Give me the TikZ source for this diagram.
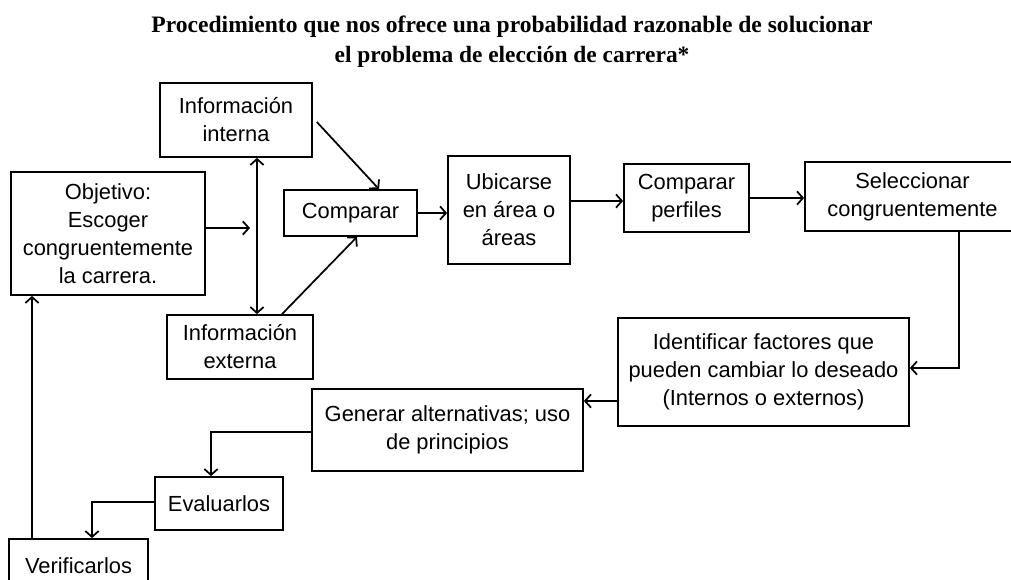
\documentclass[tikz,border=0pt]{standalone}
\usepackage{fontspec}
\setmainfont{Liberation Sans}
\newfontfamily\titlefont{Liberation Serif}
\usetikzlibrary{arrows.meta}
\begin{document}
\begin{tikzpicture}[x=0.75pt,y=-0.75pt,
  box/.style={draw,line width=1.3pt,rectangle,inner sep=0pt,align=center,
    font=\fontsize{16.4}{21}\selectfont},
  conn/.style={line width=1.3pt,-{Straight Barb[length=4.5pt,width=10pt,line width=1.3pt]}},
  conn2/.style={line width=1.3pt,{Straight Barb[length=4.5pt,width=10pt,line width=1.3pt]}-{Straight Barb[length=4.5pt,width=10pt,line width=1.3pt]}}]
\useasboundingbox (0,0) rectangle (1011,579);
% title
\node (t1) at (512,27) {\titlefont\bfseries\resizebox{540.75pt}{!}{Procedimiento que nos ofrece una probabilidad razonable de solucionar}};
\node (t2) at (512,57) {\titlefont\bfseries\resizebox{266pt}{!}{el problema de elección de carrera*}};
% boxes
\node[box,minimum width=152*0.75pt,minimum height=74*0.75pt] (intI) at (236,120) {Información\\interna};
\node[box,minimum width=194*0.75pt,minimum height=123*0.75pt] (obj) at (108,233.5) {Objetivo:\\Escoger\\congruentemente\\la carrera.};
\node[box,minimum width=133*0.75pt,minimum height=46*0.75pt] (comp) at (350.5,213) {Comparar};
\node[box,minimum width=146*0.75pt,minimum height=64*0.75pt] (intE) at (240,347) {Información\\externa};
\node[box,minimum width=122*0.75pt,minimum height=108*0.75pt] (ubi) at (509,210) {Ubicarse\\en área o\\áreas};
\node[box,minimum width=125*0.75pt,minimum height=68*0.75pt] (perf) at (686.5,198) {Comparar\\perfiles};
\node[box,minimum width=215*0.75pt,minimum height=69*0.75pt] (sel) at (912.5,196.5) {Seleccionar\\congruentemente};
\node[box,minimum width=291*0.75pt,minimum height=108*0.75pt] (ident) at (763.5,372) {Identificar factores que\\pueden cambiar lo deseado\\(Internos o externos)};
\node[box,minimum width=271*0.75pt,minimum height=82*0.75pt] (gen) at (447.5,430) {Generar alternativas; uso\\de principios};
\node[box,minimum width=128*0.75pt,minimum height=53*0.75pt] (eval) at (219,503.5) {Evaluarlos};
\node[box,minimum width=139*0.75pt,minimum height=53*0.75pt] (ver) at (78.5,565.5) {Verificarlos};
% helper coordinates
\coordinate (ot) at (250,228);
\coordinate (vx) at (257,0);
\coordinate (sx) at (959,368);
% connectors
\draw[conn] (obj.east |- ot) -- (ot);
\draw[conn2] (intI.south -| vx) -- (intE.north -| vx);
\draw[conn] ([shift={(4,2)}]intI.east) -- ([xshift=28.5*0.75pt]comp.north);
\draw[conn] ([xshift=42*0.75pt]intE.north) -- ([xshift=6.5*0.75pt]comp.south);
\draw[conn] (comp.east) -- (comp.east -| ubi.west);
\draw[conn] ([yshift=9*0.75pt]ubi.east) -- ([yshift=9*0.75pt]ubi.east -| perf.west);
\draw[conn] (perf.east) -- (perf.east -| sel.west);
\draw[conn] (sel.south -| sx) |- ([yshift=4*0.75pt]ident.east);
\draw[conn] ([yshift=-29*0.75pt]ident.west) -- ([yshift=-29*0.75pt]ident.west -| gen.east);
\draw[conn] ([yshift=-2*0.75pt]gen.west) -| ([xshift=-8*0.75pt]eval.north);
\draw[conn] ([yshift=1.5*0.75pt]eval.west) -| ([xshift=13.5*0.75pt]ver.north);
\draw[conn] ([xshift=-46.5*0.75pt]ver.north) -- ([xshift=-46.5*0.75pt]ver.north |- obj.south);
\end{tikzpicture}
\end{document}
